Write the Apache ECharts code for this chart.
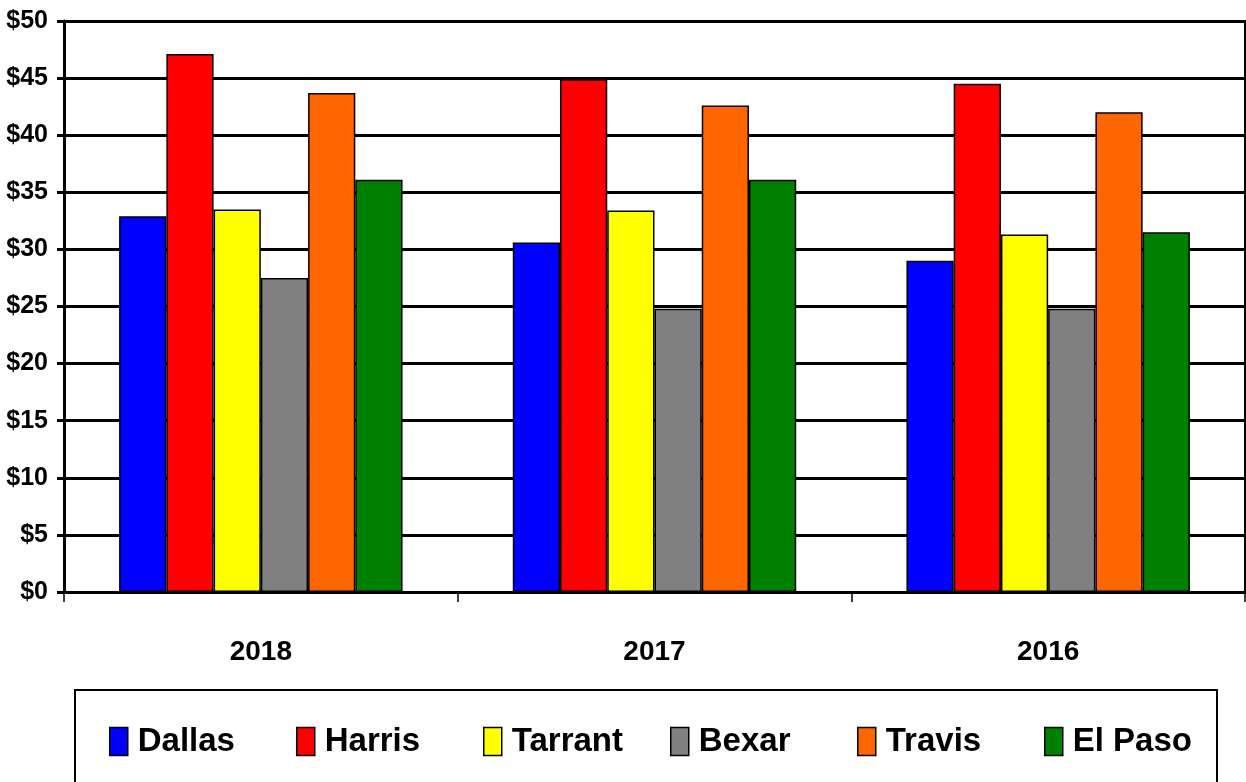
<!DOCTYPE html>
<html>
<head>
<meta charset="utf-8">
<script src="https://cdn.jsdelivr.net/npm/echarts@6/dist/echarts.min.js"></script>
<style>
  html, body { margin: 0; padding: 0; background: #fff; }
  #main { width: 1246px; height: 782px; }
</style>
</head>
<body>
<div id="main"></div>
<script>
// data
var years = ['2018', '2017', '2016'];
var dallas  = [32.9, 30.6, 29.0];
var harris  = [47.1, 44.9, 44.5];
var tarrant = [33.5, 33.4, 31.3];
var bexar   = [27.5, 24.8, 24.8];
var travis  = [43.7, 42.6, 42.0];
var elPaso  = [36.1, 36.1, 31.5];
var countyNames = ['Dallas', 'Harris', 'Tarrant', 'Bexar', 'Travis', 'El Paso'];
var countyColors = ['#0000FF', '#FF0000', '#FFFF00', '#808080', '#FF6600', '#008000'];
var countyData = [dallas, harris, tarrant, bexar, travis, elPaso];

var font = '"Liberation Sans Narrow", "Arial Narrow", "Liberation Sans", Arial, sans-serif';

var chart = echarts.init(document.getElementById('main'));

var seriesList = [];
var legendList = [];
for (var i = 0; i < countyNames.length; i++) {
  seriesList.push({
    name: countyNames[i],
    type: 'bar',
    barGap: '0%',
    barCategoryGap: '28%',
    itemStyle: {
      color: countyColors[i],
      borderColor: '#000',
      borderWidth: 1.5
    },
    data: countyData[i]
  });
  // one legend per county so the items sit at even steps like the original
  legendList.push({
    data: [countyNames[i]],
    left: 104 + i * 187,
    top: 720,
    itemWidth: 18,
    itemHeight: 28,
    icon: 'rect',
    itemStyle: { borderColor: '#000', borderWidth: 1.5 },
    textStyle: {
      padding: [0, 0, 0, 5],
      fontFamily: font,
      fontWeight: 'bold',
      fontSize: 33,
      color: '#000'
    }
  });
}

var option = {
  animation: false,
  backgroundColor: '#fff',
  grid: {
    left: 64,
    right: 1,
    top: 21,
    bottom: 190,
    show: true,
    borderColor: '#000',
    borderWidth: 2
  },
  legend: legendList,
  graphic: [{
    type: 'rect',
    shape: { x: 75, y: 690, width: 1142, height: 120 },
    style: { fill: 'none', stroke: '#000', lineWidth: 2 },
    silent: true
  }],
  xAxis: {
    type: 'category',
    data: years,
    axisLine: { lineStyle: { color: '#000', width: 3 } },
    axisTick: { show: true, length: 10, lineStyle: { color: '#000', width: 1.5 } },
    axisLabel: {
      margin: 46,
      fontFamily: font,
      fontWeight: 'bold',
      fontSize: 28,
      color: '#000'
    }
  },
  yAxis: {
    type: 'value',
    min: 0,
    max: 50,
    interval: 5,
    axisLine: { show: true, lineStyle: { color: '#000', width: 3 } },
    axisTick: { show: true, length: 7, lineStyle: { color: '#000', width: 3 } },
    splitLine: { lineStyle: { color: '#000', width: 3 } },
    axisLabel: {
      margin: 16,
      fontFamily: font,
      fontWeight: 'bold',
      fontSize: 25,
      color: '#000',
      formatter: '${value}'
    }
  },
  series: seriesList
};

chart.setOption(option);
window.onresize = function () { chart.resize(); };
</script>
</body>
</html>
